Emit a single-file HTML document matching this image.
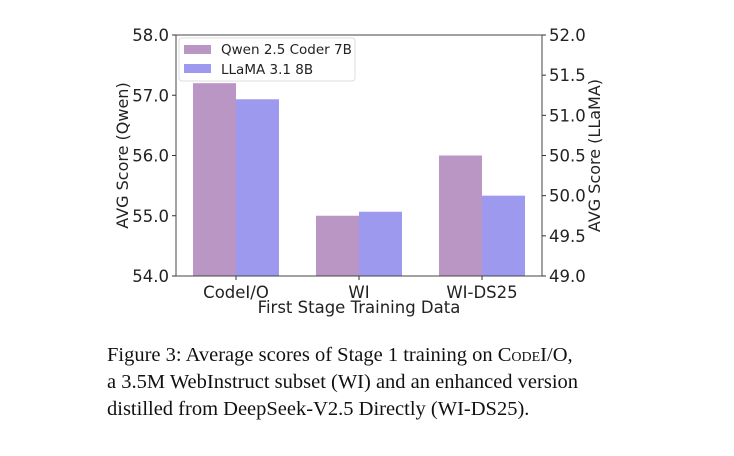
<!DOCTYPE html>
<html><head><meta charset="utf-8"><style>
body{margin:0;width:734px;height:456px;background:#fff;overflow:hidden;position:relative}
svg text{font-family:"DejaVu Sans","Liberation Sans",sans-serif}
.cap{position:absolute;left:107px;top:342px;font-family:"Liberation Serif",serif;font-size:20.5px;line-height:27px;color:#111;white-space:nowrap}
.sc{font-variant:small-caps}
</style></head><body>
<svg id="chart" width="734" height="340" style="position:absolute;left:0;top:0"></svg>
<div class="cap">Figure 3: Average scores of Stage 1 training on <span class="sc">CodeI/O</span>,<br>a 3.5M WebInstruct subset (WI) and an enhanced version<br>distilled from DeepSeek-V2.5 Directly (WI-DS25).</div>
<script>
const categories=["CodeI/O","WI","WI-DS25"];
const qwenValues=[57.2,55.0,56.0];
const llamaValues=[51.2,49.8,50.0];
const leftTicks=[54,55,56,57,58];
const rightTicks=[49,49.5,50,50.5,51,51.5,52];
const svg=document.getElementById('chart');
const NS='http://www.w3.org/2000/svg';
const L=176,R=542,T=35,B=276;
const yl=v=>B-(v-54)/4*(B-T);
const yr=v=>B-(v-49)/3*(B-T);
const xc=i=>L+60+i*123;
const bw=43;
function mk(t,a,txt){const e=document.createElementNS(NS,t);for(const k in a)e.setAttribute(k,a[k]);if(txt!==undefined)e.textContent=txt;svg.appendChild(e);return e;}
categories.forEach((c,i)=>{
 let r=mk('rect',{x:xc(i)-bw,y:yl(qwenValues[i]),width:bw,height:B-yl(qwenValues[i]),fill:'#b996c3'});
 
 
 let r2=mk('rect',{x:xc(i),y:yr(llamaValues[i]),width:bw,height:B-yr(llamaValues[i]),fill:'#9d99ef'});
 
 
 mk('line',{x1:xc(i),x2:xc(i),y1:B,y2:B+4,stroke:'#333'});
 let t=mk('text',{x:xc(i),y:B+22,'text-anchor':'middle','font-size':16.5,fill:'#222'},c);
 
 
});
let fr=mk('rect',{x:L,y:T,width:R-L,height:B-T,fill:'none',stroke:'#444','stroke-width':1});


leftTicks.forEach(v=>{
 mk('line',{x1:L-4,x2:L,y1:yl(v),y2:yl(v),stroke:'#333'});
 let t=mk('text',{x:L-7,y:yl(v)+6,'text-anchor':'end','font-size':16.5,fill:'#222'},v.toFixed(1));
 
 
});
rightTicks.forEach(v=>{
 mk('line',{x1:R,x2:R+4,y1:yr(v),y2:yr(v),stroke:'#333'});
 let t=mk('text',{x:R+7,y:yr(v)+6,'text-anchor':'start','font-size':16.5,fill:'#222'},v.toFixed(1));
 
 
});
let yt=mk('text',{transform:`translate(128,${(T+B)/2}) rotate(-90)`,'text-anchor':'middle','font-size':16,fill:'#222'},'AVG Score (Qwen)');


let yt2=mk('text',{transform:`translate(600,${(T+B)/2}) rotate(-90)`,'text-anchor':'middle','font-size':16,fill:'#222'},'AVG Score (LLaMA)');


let xt=mk('text',{x:(L+R)/2,y:313,'text-anchor':'middle','font-size':16.5,fill:'#222'},'First Stage Training Data');


let lg=mk('rect',{x:179,y:38,width:176,height:43,rx:3,fill:'#fff','fill-opacity':0.85,stroke:'#ddd'});


mk('rect',{x:184,y:45,width:27,height:9,fill:'#b996c3'});
mk('rect',{x:184,y:64,width:27,height:9,fill:'#9d99ef'});
let l1=mk('text',{x:221,y:54,'font-size':13.5,fill:'#222'},'Qwen 2.5 Coder 7B');


let l2=mk('text',{x:221,y:74,'font-size':13.5,fill:'#222'},'LLaMA 3.1 8B');


</script>
</body></html>
